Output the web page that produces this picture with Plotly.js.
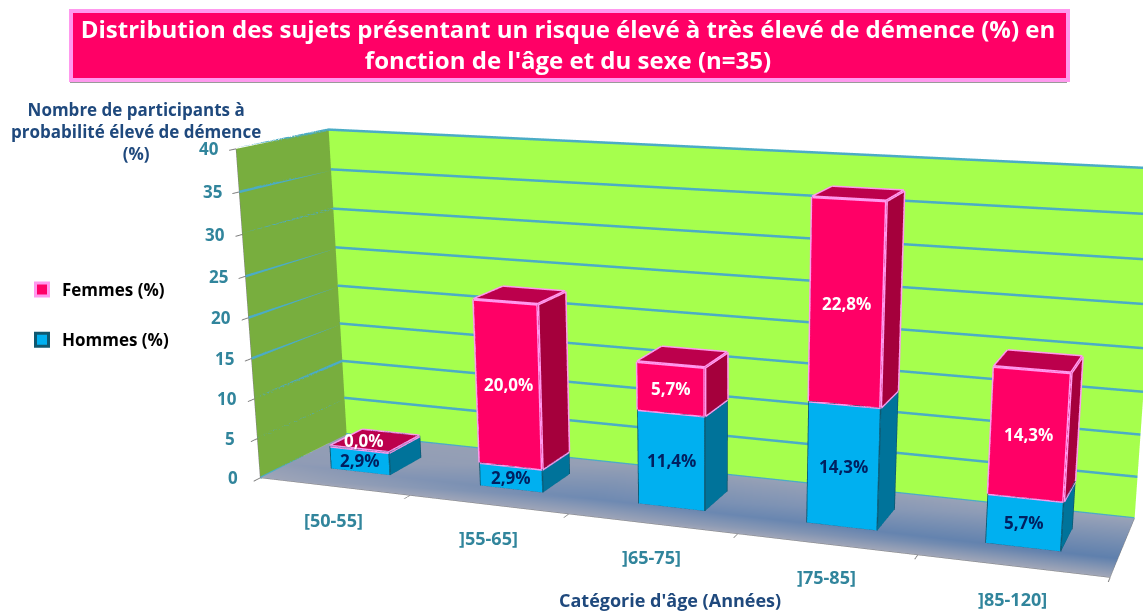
<!DOCTYPE html>
<html>
<head>
<meta charset="utf-8">
<script src="https://cdn.plot.ly/plotly-3.0.1.min.js"></script>
<style>
html,body{margin:0;background:#fff;overflow:hidden;width:1143px;height:611px}
/* the plot is bigger than the page so the scene centre lands where the reference has its vanishing point */
#chart{position:absolute;left:0;top:-305px;width:1450px;height:1508px}
</style>
</head>
<body>
<div id="chart"></div>
<script>
const categories = ['[50-55]', ']55-65]', ']65-75]', ']75-85]', ']85-120]'];
const hommes = [2.9, 2.9, 11.4, 14.3, 5.7];
const femmes = [0.0, 20.0, 5.7, 22.8, 14.3];
const zTicks = [0, 5, 10, 15, 20, 25, 30, 35, 40];
const xBounds = [-0.5, 0.5, 1.5, 2.5, 3.5, 4.5];

const W = 1450, H = 1508, TOP = 305;
const pX = x => x / W;
const pY = y => 1 - (y + TOP) / H;

const labelFont = 'Open Sans';
const pinkEdge = '#ff99ee', blueEdge = '#0f5870', gridColor = '#4bacc6', tickBlue = '#31859c';
const HALF = 0.2, Y0 = 0.31, Y1 = 0.69;

function box(i, z0, z1, front, side, top, bottom) {
  const x0 = i - HALF, x1 = i + HALF;
  return {
    type: 'mesh3d',
    x: [x0, x1, x1, x0, x0, x1, x1, x0],
    y: [Y0, Y0, Y1, Y1, Y0, Y0, Y1, Y1],
    z: [z0, z0, z0, z0, z1, z1, z1, z1],
    i: [0, 0, 4, 4, 0, 0, 1, 1, 2, 2, 3, 3],
    j: [1, 2, 5, 6, 1, 5, 2, 6, 3, 7, 0, 4],
    k: [2, 3, 6, 7, 5, 4, 6, 5, 7, 6, 4, 7],
    facecolor: [bottom, bottom, top, top, front, front, side, side, side, side, side, side],
    flatshading: true,
    lighting: { ambient: 1, diffuse: 0, specular: 0, fresnel: 0, roughness: 1 },
    hoverinfo: 'skip',
    showlegend: false
  };
}

function edges(i, z0, z1, color, width) {
  const x0 = i - HALF, x1 = i + HALF;
  const c = [[x0, Y0, z0], [x1, Y0, z0], [x1, Y1, z0], [x0, Y1, z0], [x0, Y0, z1], [x1, Y0, z1], [x1, Y1, z1], [x0, Y1, z1]];
  const seg = [[0, 1], [1, 5], [5, 4], [4, 0], [1, 2], [2, 6], [6, 5], [4, 7], [7, 6]];
  const X = [], Y = [], Z = [];
  seg.forEach(([a, b]) => {
    X.push(c[a][0], c[b][0], null);
    Y.push(c[a][1], c[b][1], null);
    Z.push(c[a][2], c[b][2], null);
  });
  return { type: 'scatter3d', mode: 'lines', x: X, y: Y, z: Z, line: { color, width }, hoverinfo: 'skip', showlegend: false };
}

const traces = [];

// floor with the slanted blue band of the reference
const floorX = [-0.5, 1.5, 4.5], floorY = [0, 0.3, 1];
const floorColors = [['#a0a6b8', '#a0a6b8', '#a3a8b8'], ['#8f9bb5', '#6f8ab2', '#5f80ad'], ['#96a0b5', '#96a0b5', '#9aa3b8']];
const mx = [], my = [], mc = [], mi = [], mj = [], mk = [];
floorY.forEach((y, r) => floorX.forEach((x, s) => { mx.push(x); my.push(y); mc.push(floorColors[r][s]); }));
for (let r = 0; r < 2; r++) {
  for (let s = 0; s < 2; s++) {
    const a = r * 3 + s;
    mi.push(a, a); mj.push(a + 1, a + 4); mk.push(a + 4, a + 3);
  }
}
traces.push({ type: 'mesh3d', x: mx, y: my, z: mx.map(() => 0), i: mi, j: mj, k: mk, vertexcolor: mc, lighting: { ambient: 1, diffuse: 0, specular: 0 }, hoverinfo: 'skip', showlegend: false });

// gridlines as lines, the axis gridwidth stays at one pixel
const gx = [], gy = [], gz = [];
zTicks.forEach(v => {
  gx.push(-0.5, -0.5, 4.5, null);
  gy.push(0, 0.998, 0.998, null);
  gz.push(v, v, v, null);
});
traces.push({ type: 'scatter3d', mode: 'lines', x: gx, y: gy, z: gz, line: { color: gridColor, width: 5 }, hoverinfo: 'skip', showlegend: false });

categories.forEach((c, i) => {
  const t = hommes[i] + femmes[i];
  traces.push(box(i, 0, hommes[i], '#00b0f0', '#00739a', '#bc004c', '#00739a'));
  traces.push(box(i, hommes[i], t, '#ff0066', '#a5003c', '#bc004c', '#bc004c'));
  traces.push(edges(i, 0, hommes[i], blueEdge, 3));
  traces.push(edges(i, hommes[i], t, pinkEdge, 6));
});

// legend entries
traces.push({ type: 'scatter3d', mode: 'markers', name: 'Femmes (%)', legendgroup: 'f', x: [null], y: [null], z: [null], marker: { symbol: 'square', size: 13, color: '#ff0066', line: { color: pinkEdge, width: 3 } } });
traces.push({ type: 'scatter3d', mode: 'markers', name: 'Hommes (%)', legendgroup: 'h', x: [null], y: [null], z: [null], marker: { symbol: 'square', size: 13, color: '#00b0f0', line: { color: blueEdge, width: 3 } } });

const pct = v => v.toFixed(1).replace('.', ',') + '%';
const sceneAnn = [];
categories.forEach((c, i) => {
  sceneAnn.push({ x: i, y: 0, z: 0, text: c, showarrow: false, yshift: -33, font: { family: labelFont, size: 18, color: tickBlue, weight: 'bold' } });
  sceneAnn.push({ x: i, y: Y0, z: hommes[i] / 2, text: pct(hommes[i]), showarrow: false, font: { family: labelFont, size: 17, color: '#002060', weight: 'bold' } });
  sceneAnn.push({ x: i, y: femmes[i] ? Y0 : 0.5, xshift: femmes[i] ? 0 : -11, z: hommes[i] + femmes[i] / 2, text: pct(femmes[i]), showarrow: false, font: { family: labelFont, size: 17, color: '#fff', weight: 'bold' } });
});
zTicks.forEach(v => sceneAnn.push({ x: -0.5, y: 0, z: v, text: String(v), showarrow: false, xshift: -27, font: { family: labelFont, size: 17, color: tickBlue, weight: 'bold' } }));

const layout = {
  width: W,
  height: H,
  margin: { l: 0, r: 0, t: 0, b: 0 },
  paper_bgcolor: '#fff',
  hovermode: false,
  title: {
    text: "Distribution des sujets présentant un risque élevé à très élevé de démence (%) en<br>fonction de l'âge et du sexe (n=35)",
    x: pX(568), xanchor: 'center', y: pY(38), yanchor: 'middle',
    font: { family: labelFont, size: 24, color: '#fff', weight: 'bold' }
  },
  shapes: [
    { type: 'rect', xref: 'paper', yref: 'paper', x0: pX(70), x1: pX(1067), y0: pY(13), y1: pY(83), fillcolor: '#9a9a9a', line: { width: 0 } },
    { type: 'rect', xref: 'paper', yref: 'paper', x0: pX(71), x1: pX(1068), y0: pY(11), y1: pY(80), fillcolor: '#ff0066', line: { color: pinkEdge, width: 4 } }
  ],
  annotations: [
    { xref: 'paper', yref: 'paper', x: pX(136), y: pY(131), xanchor: 'center', yanchor: 'middle', text: 'Nombre de participants à<br>probabilité élevé de démence<br>(%)', showarrow: false, align: 'center', font: { family: labelFont, size: 17, color: '#1f497d', weight: 'bold' } },
    { xref: 'paper', yref: 'paper', x: pX(670), y: pY(600), xanchor: 'center', yanchor: 'middle', text: "Catégorie d'âge (Années)", showarrow: false, font: { family: labelFont, size: 18, color: '#1f497d', weight: 'bold' } }
  ],
  showlegend: true,
  legend: {
    x: pX(22), y: pY(272), xanchor: 'left', yanchor: 'top', tracegroupgap: 25,
    font: { family: labelFont, size: 17, color: '#000', weight: 'bold' },
    bgcolor: 'rgba(0,0,0,0)'
  },
  scene: {
    domain: { x: [0, 1], y: [0, 1] },
    aspectmode: 'manual',
    aspectratio: { x: 2.6, y: 0.5166, z: 1.0119 },
    camera: {
      eye: { x: 1.8204, y: -4.8574, z: 1.1899 },
      center: { x: 0.2048, y: -0.2103, z: -0.275 },
      up: { x: -0.074, y: 0.2043, z: 1 }
    },
    annotations: sceneAnn,
    xaxis: { range: [-0.5, 4.5], tickvals: xBounds, showticklabels: false, ticks: 'outside', ticklen: 8, tickwidth: 2, tickcolor: '#808080', showgrid: false, zeroline: false, showline: true, linecolor: '#808080', showbackground: true, backgroundcolor: '#78ae3e', showspikes: false, title: { text: '' } },
    yaxis: { range: [0, 1], showticklabels: false, ticks: '', showgrid: false, zeroline: false, showline: true, linecolor: '#808080', showbackground: true, backgroundcolor: '#a6ff4d', showspikes: false, title: { text: '' } },
    zaxis: { range: [0, 40], tickvals: zTicks, showticklabels: false, ticks: 'outside', ticklen: 8, tickwidth: 2, tickcolor: '#808080', showgrid: false, zeroline: false, showline: true, linecolor: '#808080', showbackground: false, showspikes: false, title: { text: '' } }
  }
};

Plotly.newPlot('chart', traces, layout, { displayModeBar: false });
</script>
</body>
</html>
